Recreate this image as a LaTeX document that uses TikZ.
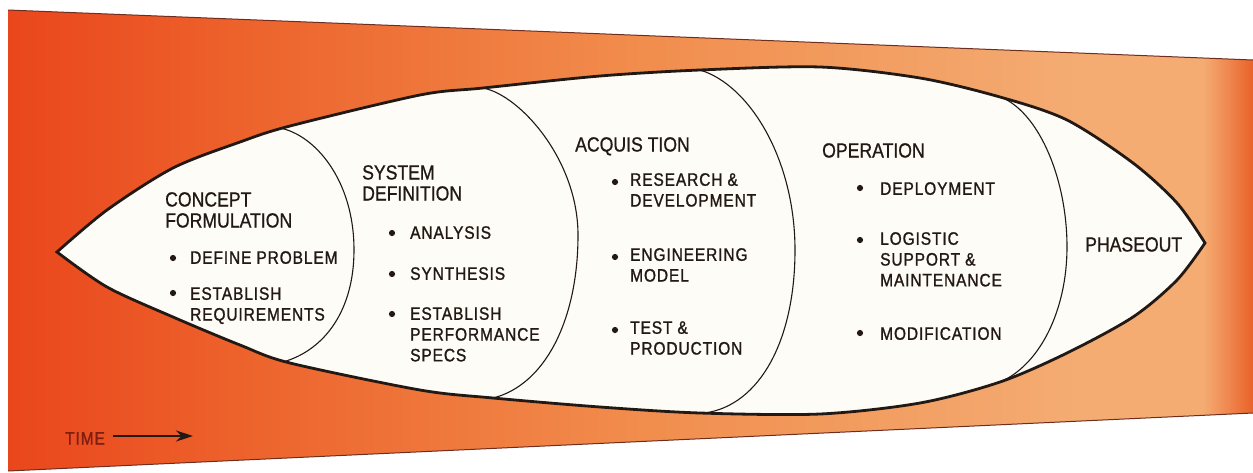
\documentclass[tikz,border=0pt]{standalone}
\usepackage{fontspec}
\setmainfont{Liberation Sans}
\newfontfamily\headfnt[FakeStretch=0.86,FakeBold=0.8]{Liberation Sans}
\newfontfamily\itemfnt[FakeStretch=0.86,LetterSpace=5,FakeBold=1.2]{Liberation Sans}
\usetikzlibrary{arrows.meta}
\definecolor{ink}{RGB}{35,25,20}
\definecolor{lensfill}{RGB}{253,252,246}
\definecolor{edgeline}{RGB}{110,45,30}
\definecolor{timecol}{RGB}{125,30,18}
\definecolor{bgA}{RGB}{234,70,28}
\definecolor{bgB}{RGB}{237,100,45}
\definecolor{bgC}{RGB}{241,140,76}
\definecolor{bgD}{RGB}{244,172,115}
\definecolor{bgE}{RGB}{233,98,42}
\pgfdeclarehorizontalshading{bgshade}{100bp}{color(0bp)=(bgA); color(25bp)=(bgA); color(35bp)=(bgB); color(50bp)=(bgC); color(68bp)=(bgD); color(73bp)=(bgD); color(75bp)=(bgE); color(100bp)=(bgE)}
\def\LensOutline{plot[smooth,tension=0.5] coordinates {(57,252) (107,210) (173,168) (240,142) (290,126) (420,95) (483,88) (600,76) (700,70) (820,67) (920,78) (1000,97) (1067,120) (1133,163) (1177,203) (1205,243)} -- plot[smooth,tension=0.5] coordinates {(1205,243) (1177,280) (1133,317) (1067,353) (1000,382) (920,403) (820,414) (700,413) (600,407) (493,398) (420,390) (290,363) (240,345) (173,317) (107,287) (57,252)} -- cycle}
\newcommand\wsp{\hspace{5pt}}
\tikzset{
  headlbl/.style={anchor=north west, inner sep=0pt, align=left, text=ink, font=\fontsize{20.5}{21}\selectfont\headfnt},
  itemlbl/.style={anchor=north west, inner sep=0pt, align=left, text=ink, font=\fontsize{18}{20.8}\selectfont\itemfnt},
  bul/.style={circle, fill=ink, inner sep=0pt, minimum size=6.2pt},
  divider/.style={draw=ink, line width=1.1pt},
  lensedge/.style={draw=ink, line width=2.8pt, line join=miter},
}
\begin{document}
\begin{tikzpicture}[x=1pt,y=-1pt]
\useasboundingbox (0,0) rectangle (1253,472);
% background band
\shade[shading=bgshade] (8,10) -- (1253,60) -- (1253,413) -- (8,471) -- cycle;
\draw[edgeline, line width=1pt] (8,10) -- (1253,60);
\draw[edgeline, line width=1pt] (8,471) -- (1253,413);
% lens
\fill[lensfill] \LensOutline;
% phase dividers
\draw[divider] (280,128) .. controls (315,135) and (354,180) .. (354,250) .. controls (354,310) and (325,350) .. (283,362);
\draw[divider] (483,88) .. controls (520,95) and (578,160) .. (578,235) .. controls (578,320) and (545,385) .. (493,398);
\draw[divider] (700,70) .. controls (750,85) and (795,160) .. (795,250) .. controls (795,340) and (760,405) .. (705,413);
\draw[divider] (1003,98) .. controls (1040,115) and (1067,180) .. (1067,247) .. controls (1067,310) and (1040,365) .. (1000,382);
\draw[lensedge] \LensOutline;
% concept formulation
\node[headlbl] (concept) at (165,192) {CONCEPT\\FORMULATION};
\node[bul] (cfb1) at (173,258) {};
\node[itemlbl] (cft1) at (190,251) {DEFINE\wsp PROBLEM};
\node[bul] (cfb2) at (173,293) {};
\node[itemlbl] (cft2) at (190,287) {ESTABLISH\\REQUIREMENTS};
% system definition
\node[headlbl] (sysdef) at (362,165) {SYSTEM\\DEFINITION};
\node[bul] (sdb1) at (392,233) {};
\node[itemlbl] (sdt1) at (410,226) {ANALYSIS};
\node[bul] (sdb2) at (392,274) {};
\node[itemlbl] (sdt2) at (410,267) {SYNTHESIS};
\node[bul] (sdb3) at (392,314) {};
\node[itemlbl] (sdt3) at (410,307) {ESTABLISH\\PERFORMANCE\\SPECS};
% acquisition
\node[headlbl] (acq) at (575,137) {ACQUIS TION};
\node[bul] (aqb1) at (615,182) {};
\node[itemlbl] (aqt1) at (630,173) {RESEARCH\wsp\&\\DEVELOPMENT};
\node[bul] (aqb2) at (615,257) {};
\node[itemlbl] (aqt2) at (630,248) {ENGINEERING\\MODEL};
\node[bul] (aqb3) at (615,330) {};
\node[itemlbl] (aqt3) at (630,321) {TEST\wsp\&\\PRODUCTION};
% operation
\node[headlbl] (oper) at (822,143) {OPERATION};
\node[bul] (opb1) at (860,188) {};
\node[itemlbl] (opt1) at (880,182) {DEPLOYMENT};
\node[bul] (opb2) at (860,240) {};
\node[itemlbl] (opt2) at (880,232) {LOGISTIC\\SUPPORT\wsp\&\\MAINTENANCE};
\node[bul] (opb3) at (860,333) {};
\node[itemlbl] (opt3) at (880,327) {MODIFICATION};
% phaseout
\node[headlbl] (phase) at (1085,237) {PHASEOUT};
% time arrow
\node[itemlbl, text=timecol] (time) at (65,432) {TIME};
\coordinate (tstart) at (113,436);
\coordinate (tend) at (193,436);
\draw[ink, line width=1.8pt, -{Stealth[length=17pt,width=11pt]}] (tstart) -- (tend);
\end{tikzpicture}
\end{document}
